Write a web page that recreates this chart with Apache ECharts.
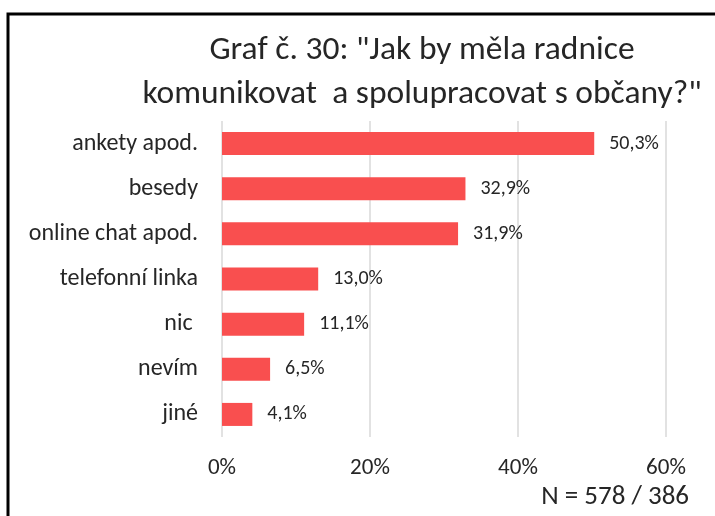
<!DOCTYPE html>
<html>
<head>
<meta charset="utf-8">
<script src="https://cdn.jsdelivr.net/npm/echarts@6/dist/echarts.min.js"></script>
<style>
    html, body { margin: 0; padding: 0; background: #fff; }
    #main { width: 715px; height: 516px; }
</style>
</head>
<body>
<div id="main"></div>
<script>
var categories = ['ankety apod.', 'besedy', 'online chat apod.', 'telefonní linka', 'nic ', 'nevím', 'jiné'];
var values = [50.3, 32.9, 31.9, 13.0, 11.1, 6.5, 4.1];
var tickLabels = ['0%', '20%', '40%', '60%'];

var font = 'Carlito, Lato, "Open Sans", sans-serif';

var chart = echarts.init(document.getElementById('main'));

var option = {
    backgroundColor: '#fff',
    animation: false,
    graphic: [
        {
            type: 'rect',
            shape: { x: 8, y: 14, width: 730, height: 530 },
            style: { fill: 'none', stroke: '#000', lineWidth: 3 }
        },
        {
            type: 'text',
            x: 422,
            y: 29,
            style: {
                text: 'Graf č. 30: "Jak by měla radnice\nkomunikovat  a spolupracovat s občany?"',
                align: 'center',
                fill: '#262626',
                font: '33.5px ' + font,
                lineHeight: 44
            }
        },
        {
            type: 'text',
            right: 26,
            top: 484,
            style: {
                text: 'N = 578 / 386',
                fill: '#262626',
                font: '27px ' + font
            }
        }
    ],
    grid: {
        left: 222,
        right: 49,
        top: 121,
        bottom: 79
    },
    xAxis: {
        type: 'value',
        min: 0,
        max: 60,
        interval: 20,
        axisLine: { show: false },
        axisTick: { show: false },
        splitLine: { lineStyle: { color: '#d9d9d9', width: 1.5 } },
        axisLabel: {
            margin: 20,
            color: '#262626',
            fontSize: 23,
            fontFamily: font,
            formatter: function (v) {
                return tickLabels[Math.round(v / 20)];
            }
        }
    },
    yAxis: {
        type: 'category',
        inverse: true,
        data: categories,
        axisLine: { show: false },
        axisTick: { show: false },
        axisLabel: {
            margin: 24,
            color: '#262626',
            fontSize: 24,
            fontFamily: font
        }
    },
    series: [{
        type: 'bar',
        data: values,
        barWidth: '51%',
        itemStyle: { color: '#F94F4F' },
        label: {
            show: true,
            position: 'right',
            distance: 15,
            color: '#262626',
            fontSize: 20,
            fontFamily: font,
            formatter: function (p) {
                return p.value.toFixed(1).replace('.', ',') + '%';
            }
        }
    }]
};

chart.setOption(option);
</script>
</body>
</html>
